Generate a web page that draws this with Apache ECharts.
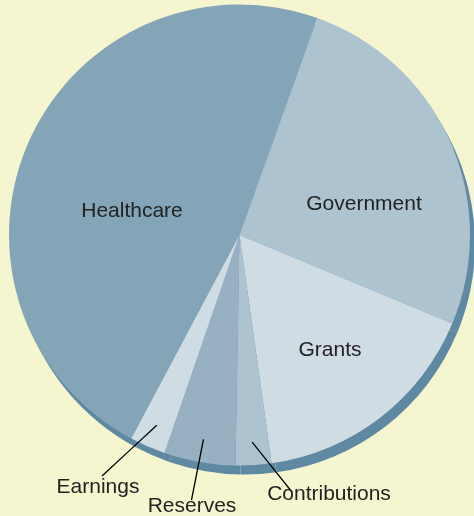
<!DOCTYPE html>
<html>
<head>
<meta charset="utf-8">
<script src="https://cdn.jsdelivr.net/npm/echarts@6/dist/echarts.min.js"></script>
<style>
  html, body { margin: 0; padding: 0; background: #f5f6d0; }
  #chart { width: 474px; height: 516px; }
</style>
</head>
<body>
<div id="chart"></div>
<script>
// ---- data ----
const categories = ['Healthcare', 'Government', 'Grants', 'Contributions', 'Reserves', 'Earnings'];
const values = [47.7, 25.8, 16.5, 2.5, 5.0, 2.5];

// ---- style ----
const sliceColors = {
  Healthcare: '#84a5b8',
  Government: '#adc3d0',
  Grants: '#cfdce4',
  Contributions: '#adc3d0',
  Reserves: '#97b1c3',
  Earnings: '#cfdce4'
};
const outsideLabels = ['Contributions', 'Reserves', 'Earnings'];
const CENTER = [239.5, 235];
const RADIUS = 230.5;
const SHADOW_OFFSET = [5, 9];
// label centres and leader-line end points (layout only)
const labelLayoutCfg = {
  Healthcare: { x: 132, y: 211 },
  Government: { x: 364, y: 204 },
  Grants: { x: 330, y: 350 },
  Earnings: { x: 98, y: 487, lx: 102, ly: 476 },
  Reserves: { x: 192, y: 506, lx: 191.5, ly: 500 },
  Contributions: { x: 329, y: 494, lx: 292, ly: 492 }
};

const FONT = { fontFamily: 'Liberation Sans, Arial, sans-serif', fontSize: 21, color: '#222222' };

const isOutside = (c) => outsideLabels.indexOf(c) >= 0;

const mainData = categories.map((c, i) => ({
  name: c,
  value: values[i],
  itemStyle: { color: sliceColors[c] },
  label: { show: !isOutside(c), position: 'inside' },
  labelLine: { show: false }
}));

const overlayData = categories.map((c, i) => ({
  name: c,
  value: values[i],
  label: { show: isOutside(c), position: 'outside' },
  labelLine: { show: isOutside(c) }
}));

const shadowData = categories.map((c, i) => ({ name: c, value: values[i] }));

function layoutLabel(params) {
  const name = categories[params.dataIndex];
  const cfg = labelLayoutCfg[name];
  const res = { x: cfg.x, y: cfg.y, align: 'center', verticalAlign: 'middle' };
  if (isOutside(name) && params.labelLinePoints) {
    const p0 = params.labelLinePoints[0];
    const sx = CENTER[0] + 0.9 * (p0[0] - CENTER[0]);
    const sy = CENTER[1] + 0.9 * (p0[1] - CENTER[1]);
    res.labelLinePoints = [[sx, sy], [(sx + cfg.lx) / 2, (sy + cfg.ly) / 2], [cfg.lx, cfg.ly]];
  }
  return res;
}

const common = {
  type: 'pie',
  silent: true,
  radius: [0, RADIUS],
  startAngle: 242,
  clockwise: true,
  avoidLabelOverlap: false,
  emphasis: { disabled: true }
};

const chart = echarts.init(document.getElementById('chart'), null, { renderer: 'canvas' });
chart.setOption({
  backgroundColor: '#f5f6d0',
  animation: false,
  series: [
    Object.assign({}, common, {
      z: 1,
      center: [CENTER[0] + SHADOW_OFFSET[0], CENTER[1] + SHADOW_OFFSET[1]],
      data: shadowData,
      itemStyle: { color: '#5f88a3', borderWidth: 0 },
      label: { show: false },
      labelLine: { show: false }
    }),
    Object.assign({}, common, {
      z: 2,
      center: CENTER,
      data: mainData,
      itemStyle: { borderWidth: 0 },
      label: Object.assign({ formatter: '{b}' }, FONT),
      labelLayout: layoutLabel
    }),
    Object.assign({}, common, {
      z: 3,
      center: CENTER,
      data: overlayData,
      itemStyle: { color: 'rgba(0,0,0,0)', borderWidth: 0 },
      label: Object.assign({ formatter: '{b}' }, FONT),
      labelLine: { lineStyle: { color: '#000000', width: 1.3, opacity: 1 }, length: 10, length2: 0 },
      labelLayout: layoutLabel
    })
  ]
});
</script>
</body>
</html>
